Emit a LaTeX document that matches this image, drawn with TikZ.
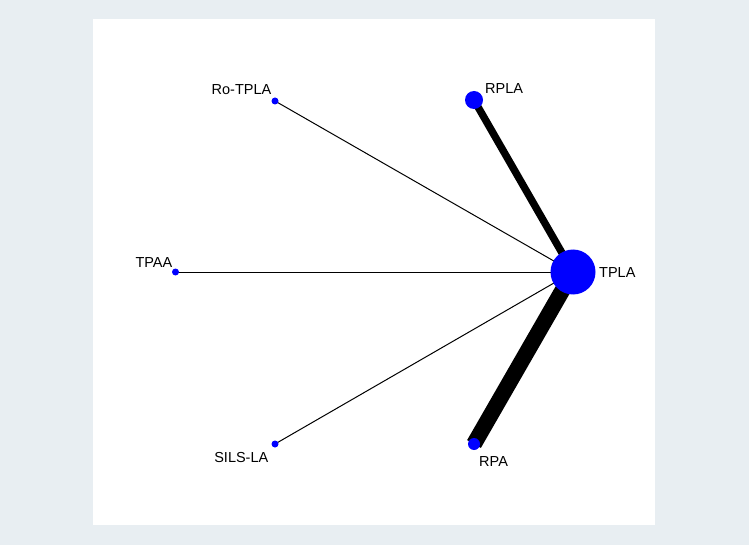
\documentclass[tikz,border=0pt]{standalone}
\usepackage{fontspec}
\setmainfont{Liberation Sans}
\definecolor{bgc}{HTML}{E8EEF2}
\definecolor{nodeblue}{HTML}{0000FF}
\begin{document}
\begin{tikzpicture}[x=1pt,y=-1pt,
  dotnode/.style={circle,fill=nodeblue,inner sep=0pt,minimum size=#1},
  lab/.style={font=\fontsize{14.5}{16}\selectfont,inner sep=0pt},
  thin edge/.style={line width=1pt,black},
]
\fill[bgc] (0,0) rectangle (749,545);
\useasboundingbox (0,0) rectangle (749,545);
\fill[white] (93,19) rectangle (655,525);
% node positions
\coordinate (cTPLA) at (573,272);
\coordinate (cRPLA) at (474,100);
\coordinate (cRPA) at (474,444);
\coordinate (cRo) at (275,101);
\coordinate (cTPAA) at (175.5,272);
\coordinate (cSILS) at (275,444);
% edges
\draw[line width=7.4pt] (cRPLA) -- (cTPLA);
\draw[line width=15.8pt] (cRPA) -- (cTPLA);
\draw[thin edge] (cRo) -- (cTPLA);
\draw[thin edge] (cTPAA) -- (cTPLA);
\draw[thin edge] (cSILS) -- (cTPLA);
% nodes
\node[dotnode=45pt] (TPLA) at (cTPLA) {};
\node[dotnode=18pt] (RPLA) at (cRPLA) {};
\node[dotnode=12pt] (RPA) at (cRPA) {};
\node[dotnode=7pt] (Ro) at (cRo) {};
\node[dotnode=7pt] (TPAA) at (cTPAA) {};
\node[dotnode=7pt] (SILS) at (cSILS) {};
% labels
\node[lab,anchor=west] (lTPLA) at (599,272.5) {TPLA};
\node[lab,anchor=west] (lRPLA) at (485,89) {RPLA};
\node[lab,anchor=west] (lRPA) at (479,462) {RPA};
\node[lab,anchor=east] (lRo) at (271.5,90) {Ro-TPLA};
\node[lab,anchor=east] (lTPAA) at (172.5,262.5) {TPAA};
\node[lab,anchor=east] (lSILS) at (268.5,457.5) {SILS-LA};
\end{tikzpicture}
\end{document}
